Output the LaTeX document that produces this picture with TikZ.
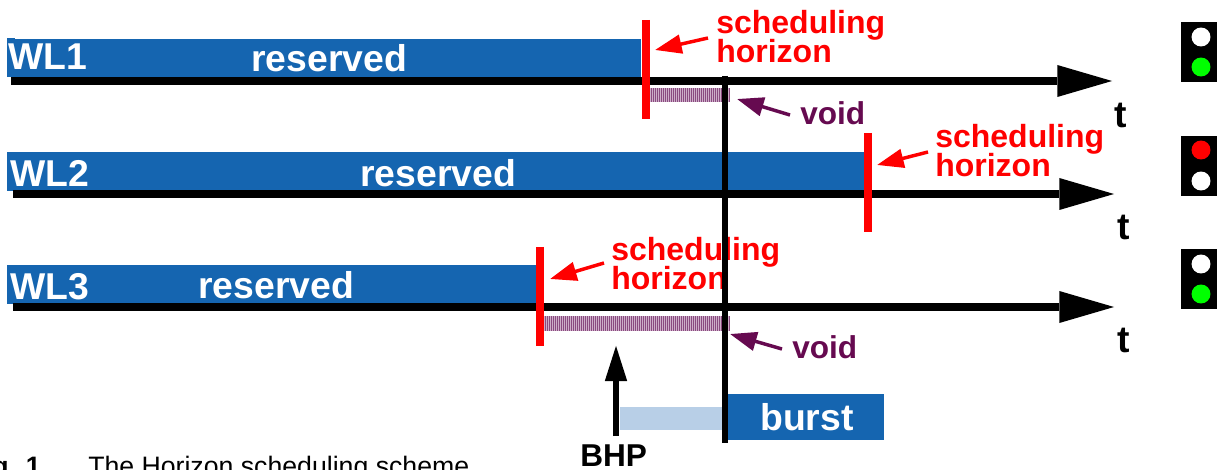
\documentclass[tikz,border=0pt]{standalone}
\usepackage{fontspec}
\setmainfont{Liberation Sans}
\usetikzlibrary{arrows.meta}
\definecolor{wlblue}{HTML}{1565B0}
\definecolor{lightburst}{HTML}{B8CFE7}
\definecolor{voidtxt}{HTML}{660A50}
\definecolor{voidfill}{HTML}{CDAEC8}
\definecolor{hatchdark}{HTML}{8A4A80}
\tikzset{
 x=0.75pt,y=-0.75pt,
 axis/.style={line width=6pt,-{Triangle[length=41pt,width=24pt,line width=0pt]},black},
 redmark/.style={line width=6pt,red},
 hlabel/.style={anchor=base west,inner sep=0,text=red,font=\bfseries\fontsize{24}{24}\selectfont},
 wllabel/.style={anchor=base west,inner sep=0,text=white,font=\bfseries\fontsize{28}{28}\selectfont},
 tlabel/.style={anchor=base,inner sep=0,text=black,font=\bfseries\fontsize{28}{28}\selectfont},
 voidlabel/.style={anchor=base west,inner sep=0,text=voidtxt,font=\bfseries\fontsize{23.7}{23.7}\selectfont},
 redarrow/.style={line width=2.6pt,red,-{Triangle[length=20pt,width=14pt]}},
 voidarrow/.style={line width=2.6pt,voidtxt,-{Triangle[length=20pt,width=14pt]}},
 lamp/.style={circle,minimum size=14.2pt,inner sep=0,draw=none},
}
\newcommand{\hatchbar}[4]{% x1 x2 y1 y2
 \fill[voidfill] (#1,#3) rectangle (#2,#4);
 \foreach \xx in {#1,...,#2}{\ifnum\xx<#2\ifodd\xx\fill[hatchdark] (\xx,#3) rectangle (\xx+1,#4);\fi\fi}
}
\begin{document}
\begin{tikzpicture}
\useasboundingbox (0,0) rectangle (1217,470);
\clip (0,0) rectangle (1217,470);
\fill[white] (0,0) rectangle (1217,470);
% row 1
\fill[wlblue] (7,39) rectangle (641,77.5);
\fill[wlblue] (7,38) rectangle (15,40);
\node[wllabel] (wl1) at (8,69.5) {WL1};
\node[wllabel] (res1) at (251,71.5) {reserved};
\coordinate (a1s) at (11,81); \coordinate (a1e) at (1112,81);
\draw[axis] (a1s) -- (a1e);
\hatchbar{650}{730}{88}{102}
\coordinate (h1t) at (646,20); \coordinate (h1b) at (646,119);
\draw[redmark] (h1t) -- (h1b);
\node[hlabel] (s1) at (716,34) {scheduling};
\node[hlabel] (h1) at (716,63) {horizon};
\coordinate (h1tip) at (655,50); \coordinate (h1tail) at (708,38);
\draw[redarrow] (h1tail) -- (h1tip);
\node[voidlabel] (v1) at (800,125) {void};
\coordinate (v1tip) at (737,99); \coordinate (v1tail) at (790,115);
\draw[voidarrow] (v1tail) -- (v1tip);
\node[tlabel] (t1) at (1121,128) {t};
% row 2
\fill[wlblue] (7,152) rectangle (865,191);
\node[wllabel] (wl2) at (10,186.5) {WL2};
\node[wllabel] (res2) at (360,186.5) {reserved};
\coordinate (a2s) at (13,194); \coordinate (a2e) at (1114,194);
\draw[axis] (a2s) -- (a2e);
\coordinate (h2t) at (868,133); \coordinate (h2b) at (868,232);
\draw[redmark] (h2t) -- (h2b);
\node[hlabel] (s2) at (935,148) {scheduling};
\node[hlabel] (h2) at (935,177) {horizon};
\coordinate (h2tip) at (877,165); \coordinate (h2tail) at (928,152);
\draw[redarrow] (h2tail) -- (h2tip);
\node[tlabel] (t2) at (1124,240) {t};
% row 3
\fill[wlblue] (7,265) rectangle (536,304);
\node[wllabel] (wl3) at (10,299.5) {WL3};
\node[wllabel] (res3) at (198,298.5) {reserved};
\coordinate (a3s) at (13,307); \coordinate (a3e) at (1114,307);
\draw[axis] (a3s) -- (a3e);
\hatchbar{544}{730}{316}{331}
\coordinate (h3t) at (540,247); \coordinate (h3b) at (540,346);
\draw[redmark] (h3t) -- (h3b);
\node[hlabel] (s3) at (611,261) {scheduling};
\node[hlabel] (h3) at (611,290) {horizon};
\coordinate (h3tip) at (550,279); \coordinate (h3tail) at (604,263);
\draw[redarrow] (h3tail) -- (h3tip);
\node[voidlabel] (v3) at (792,358) {void};
\coordinate (v3tip) at (730,334); \coordinate (v3tail) at (782,349);
\draw[voidarrow] (v3tail) -- (v3tip);
\node[tlabel] (t3) at (1124,352) {t};
% burst
\fill[lightburst] (620,407) rectangle (722,430);
\fill[wlblue] (727,394) rectangle (884,440);
\node[wllabel] (burst) at (760,430) {burst};
\coordinate (vt) at (725.3,76); \coordinate (vb) at (725.3,443);
\draw[line width=4.5pt,black] (vt) -- (vb);
\coordinate (bs) at (616,436); \coordinate (be) at (616,345);
\draw[line width=4.2pt,black,-{Triangle[length=27pt,width=15.5pt]}] (bs) -- (be);
\node[anchor=base west,inner sep=0,font=\bfseries\fontsize{23.7}{23.7}\selectfont] (bhp) at (580,466) {BHP};
% caption
\node[anchor=base east,inner sep=0,font=\bfseries\fontsize{20}{20}\selectfont] (fig) at (41,475) {Fig. 1};
\node[anchor=base west,inner sep=0,font=\fontsize{20}{20}\selectfont] (cap) at (88,475) {The Horizon scheduling scheme};
% lights
\fill[black] (1181,22) rectangle (1217,82);
\node[lamp,fill=white] (l1a) at (1201,37) {};
\node[lamp,fill=green] (l1b) at (1201,67) {};
\fill[black] (1181,136) rectangle (1217,196);
\node[lamp,fill=red] (l2a) at (1201,150) {};
\node[lamp,fill=white] (l2b) at (1201,181) {};
\fill[black] (1181,249) rectangle (1217,309);
\node[lamp,fill=white] (l3a) at (1201,264) {};
\node[lamp,fill=green] (l3b) at (1201,294) {};
\end{tikzpicture}
\end{document}
